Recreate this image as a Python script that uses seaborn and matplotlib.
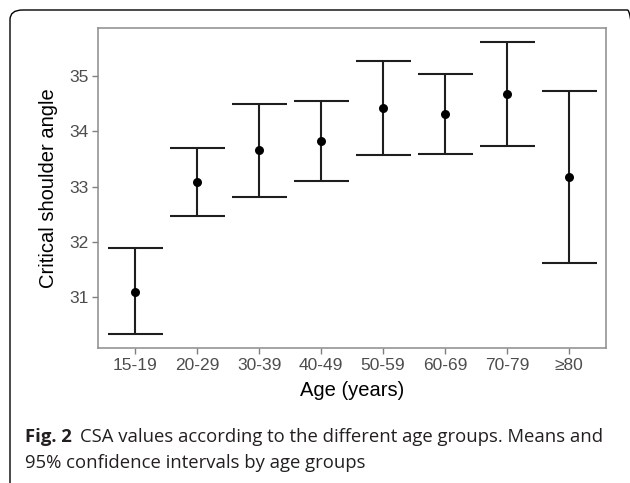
import pandas as pd
import seaborn as sns
import matplotlib.pyplot as plt
from matplotlib.patches import FancyBboxPatch

age_groups = ['15-19', '20-29', '30-39', '40-49', '50-59', '60-69', '70-79', '≥80']
csa_mean = [31.10, 33.08, 33.66, 33.82, 34.43, 34.31, 34.67, 33.17]
ci_lower = [30.33, 32.47, 32.82, 33.10, 33.58, 33.59, 33.74, 31.61]
ci_upper = [31.89, 33.70, 34.50, 34.55, 35.28, 35.04, 35.61, 34.73]


def main():
    df = pd.DataFrame({'Age': age_groups, 'CSA': csa_mean,
                       'lo': ci_lower, 'hi': ci_upper})

    sns.set_style('white')
    plt.rcParams['font.family'] = ['Liberation Sans', 'DejaVu Sans']

    fig = plt.figure(figsize=(6.3, 4.83), dpi=100)
    ax = fig.add_axes([98 / 630, 1 - 348 / 483, 508 / 630, 320 / 483])

    # confidence intervals
    x = range(len(df))
    err = [df['CSA'] - df['lo'], df['hi'] - df['CSA']]
    ax.errorbar(x, df['CSA'], yerr=err, fmt='none', ecolor='#1e1e1e',
                elinewidth=1.5, capsize=19.8, capthick=1.5)
    sns.scatterplot(x='Age', y='CSA', data=df, ax=ax, color='black',
                    s=42, edgecolor='black', linewidth=0, zorder=3)

    ax.set_xlim(-0.6, 7.6)
    ax.set_ylim(30.08, 35.87)
    ax.set_yticks([31, 32, 33, 34, 35])
    ax.set_xlabel('Age (years)', fontsize=14.5, color='black', labelpad=6)
    ax.set_ylabel('Critical shoulder angle', fontsize=14.5, color='black', labelpad=8)
    ax.tick_params(axis='both', labelsize=12.5, labelcolor='#4d4d4d',
                   color='#7f7f7f', length=4, width=1, direction='out',
                   bottom=True, left=True, pad=3)
    for s in ax.spines.values():
        s.set_color('#8c8c8c')
        s.set_linewidth(1.1)

    # caption
    cap = dict(fontsize=13.3, family=['Open Sans', 'DejaVu Sans'], color='#231f20', va='center')
    t1 = fig.text(25 / 630, 1 - 437 / 483, 'Fig. 2', fontweight='bold', **cap)
    fig.canvas.draw()
    bb = t1.get_window_extent()
    fig.text((bb.x1 + 8) / 630, 1 - 437 / 483,
             'CSA values according to the different age groups. Means and', **cap)
    fig.text(25 / 630, 1 - 463 / 483, '95% confidence intervals by age groups', **cap)

    # rounded frame around the figure
    frame = FancyBboxPatch((10 / 630, -20 / 483), 630 / 630, 493 / 483,
                           boxstyle='round,pad=0,rounding_size=0.02',
                           transform=fig.transFigure, fill=False,
                           edgecolor='black', linewidth=1.0)
    fig.patches.append(frame)

    fig.savefig('out.png', dpi=100)


if __name__ == "__main__":
    main()
